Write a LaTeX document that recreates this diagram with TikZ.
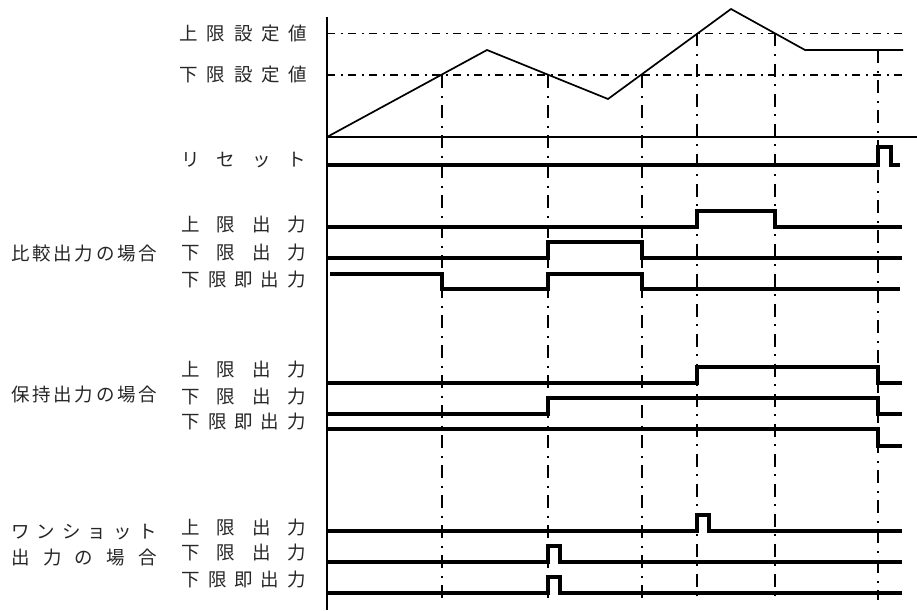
\documentclass[tikz,border=0pt]{standalone}
\usepackage{fontspec}
\setmainfont{Noto Sans CJK JP}
\newcommand{\sprd}[2]{\makebox[#1][s]{#2}}
\tikzset{
  sig/.style={line width=3.2pt},
  wave/.style={line width=1.7pt},
  axisline/.style={line width=1.8pt},
  hlim/.style={line width=1.9pt, dash pattern=on 8pt off 5.5pt on 2pt off 5.5pt},
  vlim/.style={line width=1.7pt, dash pattern=on 13pt off 7.5pt on 2pt off 7.5pt},
  lbl/.style={inner sep=0pt, anchor=east, font=\fontsize{18.5}{20}\selectfont, text=black!85},
  grp/.style={inner sep=0pt, anchor=west, font=\fontsize{18.5}{20}\selectfont, text=black!85},
}
\begin{document}
\begin{tikzpicture}[x=1pt, y=-1pt]
  \useasboundingbox (0,0) rectangle (917,610);

  % axes and limit values
  \draw[axisline] (327,17) -- (327,610);
  \draw[axisline] (327,137) -- (917,137);
  \draw[hlim] (327,33.5) -- (903,33.5);
  \draw[hlim] (327,75) -- (903,75);
  \node[lbl] (hiset) at (307,33.5) {\sprd{127pt}{上\hfill 限\hfill 設\hfill 定\hfill 値}};
  \node[lbl] (loset) at (307,75) {\sprd{127pt}{下\hfill 限\hfill 設\hfill 定\hfill 値}};

  % measured value
  \draw[wave] (327,137) -- (487,50) -- (608,99) -- (731,9) -- (805,50) -- (903,50);

  % timing lines
  \foreach \x/\y in {442/75, 548/75, 642/75, 697/33.5, 775/33.5, 878/50} {
    \draw[vlim] (\x,\y) -- (\x,600);
  }

  % reset
  \node[lbl] (reset) at (306,160) {\sprd{124pt}{リ\hfill セ\hfill ッ\hfill ト}};
  \draw[sig] (328,165) -- (878,165) -- (878,147) -- (891,147) -- (891,165) -- (900,165);

  % comparison output
  \node[grp] (cmp) at (11,253) {\sprd{146pt}{比\hfill 較\hfill 出\hfill 力\hfill の\hfill 場\hfill 合}};
  \node[lbl] (cmphi) at (306,225) {\sprd{124pt}{上\hfill 限\hfill 出\hfill 力}};
  \node[lbl] (cmplo) at (306,253) {\sprd{124pt}{下\hfill 限\hfill 出\hfill 力}};
  \node[lbl] (cmpim) at (306,280) {\sprd{124pt}{下\hfill 限\hfill 即\hfill 出\hfill 力}};
  \draw[sig] (328,227) -- (697,227) -- (697,211) -- (775,211) -- (775,227) -- (902,227);
  \draw[sig] (328,258) -- (548,258) -- (548,242) -- (642,242) -- (642,258) -- (902,258);
  \draw[sig] (330,274) -- (442,274) -- (442,289) -- (548,289) -- (548,274) -- (642,274) -- (642,289) -- (900,289);

  % hold output
  \node[grp] (hold) at (11,395) {\sprd{146pt}{保\hfill 持\hfill 出\hfill 力\hfill の\hfill 場\hfill 合}};
  \node[lbl] (holdhi) at (306,370) {\sprd{124pt}{上\hfill 限\hfill 出\hfill 力}};
  \node[lbl] (holdlo) at (306,397) {\sprd{124pt}{下\hfill 限\hfill 出\hfill 力}};
  \node[lbl] (holdim) at (306,422) {\sprd{124pt}{下\hfill 限\hfill 即\hfill 出\hfill 力}};
  \draw[sig] (328,383) -- (697,383) -- (697,367) -- (878,367) -- (878,383) -- (902,383);
  \draw[sig] (328,414) -- (548,414) -- (548,398) -- (878,398) -- (878,414) -- (902,414);
  \draw[sig] (328,429) -- (878,429) -- (878,446) -- (902,446);

  % one-shot output
  \node[grp] (shot) at (11,532) {\sprd{146pt}{ワ\hfill ン\hfill シ\hfill ョ\hfill ッ\hfill ト}};
  \node[grp] (shot2) at (11,558) {\sprd{146pt}{出\hfill 力\hfill の\hfill 場\hfill 合}};
  \node[lbl] (shothi) at (306,528) {\sprd{124pt}{上\hfill 限\hfill 出\hfill 力}};
  \node[lbl] (shotlo) at (306,553) {\sprd{124pt}{下\hfill 限\hfill 出\hfill 力}};
  \node[lbl] (shotim) at (306,580) {\sprd{124pt}{下\hfill 限\hfill 即\hfill 出\hfill 力}};
  \foreach \y/\x in {531/697, 562/548, 593/548} {
    \draw[sig] (328,\y) -- (\x,\y) -- (\x,\y-16) -- (\x+12,\y-16) -- (\x+12,\y) -- (902,\y);
  }
\end{tikzpicture}
\end{document}
